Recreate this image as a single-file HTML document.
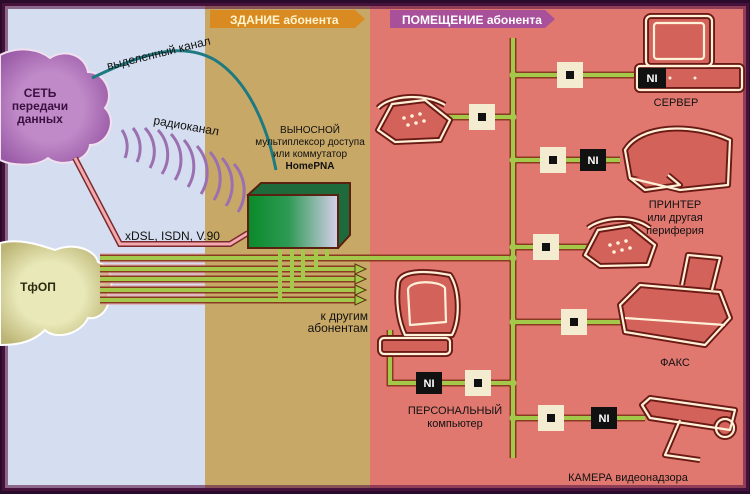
<!DOCTYPE html>
<html><head><meta charset="utf-8"><style>
html,body{margin:0;padding:0;background:#2a0b2c}
svg{display:block}
text{font-family:"Liberation Sans",sans-serif}
</style></head><body>
<svg width="750" height="494" viewBox="0 0 750 494" xmlns="http://www.w3.org/2000/svg">
<defs>
<linearGradient id="bx" x1="0" x2="1"><stop offset="0" stop-color="#0a8a2a"/><stop offset="0.45" stop-color="#2e9a55"/><stop offset="1" stop-color="#d8d0ec"/></linearGradient>
<radialGradient id="pc" cx="0.45" cy="0.5" r="0.6"><stop offset="0.5" stop-color="#c08ac8"/><stop offset="1" stop-color="#9a5aa6"/></radialGradient>
<radialGradient id="gc" cx="0.45" cy="0.5" r="0.6"><stop offset="0.5" stop-color="#e8e8b8"/><stop offset="1" stop-color="#bcb474"/></radialGradient>
</defs>
<rect width="750" height="494" fill="#2a0b2c"/>
<rect x="5" y="6" width="200" height="482" fill="#d5def0"/>
<rect x="205" y="6" width="165" height="482" fill="#c8a866"/>
<rect x="370" y="6" width="376" height="482" fill="#e07870"/>
<rect x="5" y="6" width="741" height="482" fill="none" stroke="#5a1848" stroke-width="6" opacity="0.6"/>
<!-- banners -->
<path d="M210,10 L355,10 L365,19 L355,28 L210,28 Z" fill="#d98a20"/>
<text x="230" y="24" font-size="12" font-weight="bold" fill="#fff5d0">ЗДАНИЕ абонента</text>
<path d="M390,10 L545,10 L555,19 L545,28 L390,28 Z" fill="#a8509a"/>
<text x="402" y="24" font-size="12" font-weight="bold" fill="#fff">ПОМЕЩЕНИЕ абонента</text>
<!-- clouds -->
<path d="M0,55 C20,45 40,50 50,58 C65,48 85,55 88,72 C105,72 115,95 105,108 C118,120 108,145 90,145 C88,162 60,168 48,158 C35,168 10,165 0,160 Z" fill="url(#pc)" stroke="#f0e0f0" stroke-width="2"/>
<text x="40" y="97" font-size="12" font-weight="bold" fill="#3a1040" text-anchor="middle">СЕТЬ</text>
<text x="40" y="110" font-size="12" font-weight="bold" fill="#3a1040" text-anchor="middle">передачи</text>
<text x="40" y="123" font-size="12" font-weight="bold" fill="#3a1040" text-anchor="middle">данных</text>
<path d="M0,243 C20,238 40,245 55,250 C75,242 95,250 98,262 C112,268 115,285 108,292 C112,308 100,320 88,318 C80,335 55,340 45,330 C30,345 10,345 0,345 Z" fill="url(#gc)" stroke="#fff" stroke-width="2"/>
<text x="38" y="291" font-size="12" font-weight="bold" fill="#2a2a10" text-anchor="middle">ТфОП</text>
<!-- teal curve -->
<path d="M92,78 C140,55 180,40 215,60 C250,82 268,130 276,170" fill="none" stroke="#1e7a80" stroke-width="3"/>
<text x="108" y="70" font-size="12" fill="#111" transform="rotate(-14 108 70)">выделенный канал</text>
<!-- radio arcs -->
<g fill="none" stroke="#9a70b0" stroke-width="3">
<path d="M122,130 A30,30 0 0 1 125,158"/>
<path d="M133,128 A32,32 0 0 1 137,162"/>
<path d="M145,128 A34,34 0 0 1 150,168"/>
<path d="M158,130 A36,36 0 0 1 162,174"/>
<path d="M171,134 A38,38 0 0 1 175,180"/>
<path d="M184,140 A40,40 0 0 1 188,187"/>
<path d="M197,146 A40,40 0 0 1 201,194"/>
<path d="M210,152 A40,40 0 0 1 214,200"/>
<path d="M222,158 A40,40 0 0 1 226,206"/>
<path d="M234,164 A40,40 0 0 1 238,212"/>
</g>
<text x="153" y="124" font-size="12" fill="#111" transform="rotate(10 153 124)">радиоканал</text>
<!-- text mux -->
<text x="310" y="133" font-size="10" fill="#111" text-anchor="middle">ВЫНОСНОЙ</text>
<text x="310" y="145" font-size="10" fill="#111" text-anchor="middle">мультиплексор доступа</text>
<text x="310" y="157" font-size="10" fill="#111" text-anchor="middle">или коммутатор</text>
<text x="310" y="169" font-size="10" font-weight="bold" fill="#111" text-anchor="middle">HomePNA</text>
<!-- pink xDSL -->
<path d="M75,158 L120,244 L230,244 L248,233" fill="none" stroke="#7a2a2a" stroke-width="6"/>
<path d="M75,158 L120,244 L230,244 L248,233" fill="none" stroke="#f4a8b0" stroke-width="3"/>
<text x="125" y="240" font-size="12" fill="#111">xDSL, ISDN, V.90</text>
<!-- phone lines -->
<g stroke="#e6a0a0" stroke-width="10" fill="none" opacity="0.6">
<path d="M100,258 H205"/><path d="M100,269 H205"/><path d="M100,279 H205"/><path d="M100,290 H205"/><path d="M100,300 H205"/>
</g>
<g stroke="#8a3a20" stroke-width="7" fill="none">
<path d="M100,258 H513"/><path d="M100,269 H358"/><path d="M100,279 H358"/><path d="M100,290 H358"/><path d="M100,300 H358"/>
</g>
<g stroke="#a4c84a" stroke-width="4" fill="none">
<path d="M100,258 H513"/>
<path d="M100,269 H358"/><path d="M100,279 H358"/><path d="M100,290 H358"/><path d="M100,300 H358"/>
<path d="M280,248 V300"/><path d="M292,248 V290"/><path d="M303,248 V279"/><path d="M316,248 V269"/><path d="M327,248 V258"/>
</g>
<g fill="#a4c84a" stroke="#5a3010" stroke-width="1">
<path d="M355,264 L366,269 L355,274 Z"/><path d="M355,274 L366,279 L355,284 Z"/><path d="M355,285 L366,290 L355,295 Z"/><path d="M355,295 L366,300 L355,305 Z"/>
</g>
<text x="368" y="320" font-size="12" fill="#111" text-anchor="end">к другим</text>
<text x="368" y="332" font-size="12" fill="#111" text-anchor="end">абонентам</text>
<!-- box -->
<path d="M248,195 L261,183 L350,183 L350,235 L338,248 Z" fill="#1e6a3a" stroke="#5a2010" stroke-width="2"/>
<rect x="248" y="195" width="90" height="53" fill="url(#bx)" stroke="#5a2010" stroke-width="2"/>
<!-- bus -->
<g stroke="#8a3a20" stroke-width="7" fill="none">
<path d="M513,38 V458"/><path d="M513,75 H640"/><path d="M395,117 H513"/><path d="M513,160 H620"/><path d="M513,247 H620"/><path d="M513,322 H625"/><path d="M390,330 V383 H513"/><path d="M513,418 H645"/>
</g>
<g stroke="#a4c84a" stroke-width="4" fill="none">
<path d="M513,38 V458"/><path d="M513,75 H640"/><path d="M395,117 H513"/><path d="M513,160 H620"/><path d="M513,247 H620"/><path d="M513,322 H625"/><path d="M390,330 V383 H513"/><path d="M513,418 H645"/>
</g>
<g fill="#a4c84a"><circle cx="513" cy="75" r="3.5"/><circle cx="513" cy="117" r="3.5"/><circle cx="513" cy="160" r="3.5"/><circle cx="513" cy="247" r="3.5"/><circle cx="513" cy="258" r="3.5"/><circle cx="513" cy="322" r="3.5"/><circle cx="513" cy="383" r="3.5"/><circle cx="513" cy="418" r="3.5"/></g>
<!-- sockets -->
<g fill="#f4ecd0"><rect x="557" y="62" width="26" height="26"/><rect x="469" y="104" width="26" height="26"/><rect x="540" y="147" width="26" height="26"/><rect x="533" y="234" width="26" height="26"/><rect x="561" y="309" width="26" height="26"/><rect x="465" y="370" width="26" height="26"/><rect x="538" y="405" width="26" height="26"/></g>
<g fill="#111"><rect x="566" y="71" width="8" height="8"/><rect x="478" y="113" width="8" height="8"/><rect x="549" y="156" width="8" height="8"/><rect x="542" y="243" width="8" height="8"/><rect x="570" y="318" width="8" height="8"/><rect x="474" y="379" width="8" height="8"/><rect x="547" y="414" width="8" height="8"/></g>
<!-- devices -->
<g fill="#d2625a" stroke="#6a1a14" stroke-width="6" stroke-linejoin="round">
<rect x="646" y="16" width="66" height="50" rx="5"/><rect x="637" y="66" width="105" height="24" rx="3"/>
<path d="M378,130 L392,104 L425,100 L450,120 L440,140 L395,142 Z"/><path d="M378,108 C390,95 425,93 445,105" fill="none"/>
<path d="M625,150 C640,125 690,122 730,140 L728,185 L680,190 L630,178 Z"/><path d="M630,178 L645,190 L680,185 L668,175"/>
<path d="M585,255 L598,230 L630,225 L655,245 L648,265 L600,266 Z"/><path d="M588,228 C600,218 632,214 650,228" fill="none"/>
<path d="M682,285 L688,255 L720,258 L712,290"/><path d="M620,305 L640,285 L720,292 L730,318 L705,345 L625,332 Z"/>
<path d="M398,285 C398,270 425,270 450,275 C460,290 460,320 452,335 L405,335 C398,320 396,300 398,285 Z"/>
<rect x="380" y="338" width="70" height="16" rx="4"/>
<path d="M680,420 L665,455 L700,460" fill="none"/><path d="M642,405 L650,398 L735,410 L730,430 L650,418 Z"/><circle cx="725" cy="428" r="9"/>
</g>
<g fill="none" stroke="#fff0d8" stroke-width="2.2" stroke-linejoin="round">
<rect x="646" y="16" width="66" height="50" rx="5"/><rect x="654" y="23" width="50" height="36" rx="3"/>
<rect x="637" y="66" width="105" height="24" rx="3"/>
<path d="M378,130 L392,104 L425,100 L450,120 L440,140 L395,142 Z"/><path d="M378,108 C390,95 425,93 445,105"/>
<path d="M625,150 C640,125 690,122 730,140 L728,185 L680,190 L630,178 Z"/><path d="M630,178 L645,190 L680,185 L668,175"/>
<path d="M585,255 L598,230 L630,225 L655,245 L648,265 L600,266 Z"/><path d="M588,228 C600,218 632,214 650,228"/>
<path d="M682,285 L688,255 L720,258 L712,290"/><path d="M620,305 L640,285 L720,292 L730,318 L705,345 L625,332 Z"/><path d="M625,318 L725,325"/>
<path d="M398,285 C398,270 425,270 450,275 C460,290 460,320 452,335 L405,335 C398,320 396,300 398,285 Z"/><path d="M408,290 C408,280 440,280 445,288 L446,322 L410,325 Z"/>
<rect x="380" y="338" width="70" height="16" rx="4"/>
<path d="M680,420 L665,455 L700,460"/><path d="M642,405 L650,398 L735,410 L730,430 L650,418 Z"/><circle cx="725" cy="428" r="9"/>
</g>
<g fill="#fff0d8">
<circle cx="404" cy="118" r="1.8"/><circle cx="412" cy="116" r="1.8"/><circle cx="420" cy="114" r="1.8"/><circle cx="408" cy="125" r="1.8"/><circle cx="416" cy="123" r="1.8"/><circle cx="424" cy="121" r="1.8"/>
<circle cx="610" cy="245" r="1.8"/><circle cx="618" cy="243" r="1.8"/><circle cx="626" cy="241" r="1.8"/><circle cx="614" cy="252" r="1.8"/><circle cx="622" cy="250" r="1.8"/><circle cx="630" cy="248" r="1.8"/>
<circle cx="670" cy="78" r="1.5"/><circle cx="695" cy="78" r="1.5"/>
</g>
<!-- NI -->
<g fill="#111"><rect x="580" y="149" width="26" height="22"/><rect x="416" y="372" width="26" height="22"/><rect x="591" y="407" width="26" height="22"/><rect x="638" y="68" width="28" height="20"/></g>
<g font-size="11" font-weight="bold" fill="#fff" text-anchor="middle"><text x="593" y="164">NI</text><text x="429" y="387">NI</text><text x="604" y="422">NI</text><text x="652" y="82">NI</text></g>
<g font-size="11" fill="#111" text-anchor="middle">
<text x="676" y="106">СЕРВЕР</text>
<text x="675" y="208">ПРИНТЕР</text><text x="675" y="221">или другая</text><text x="675" y="234">периферия</text>
<text x="675" y="366">ФАКС</text>
<text x="455" y="414">ПЕРСОНАЛЬНЫЙ</text><text x="455" y="427">компьютер</text>
<text x="628" y="481">КАМЕРА видеонадзора</text>
</g>
</svg>
</body></html>
